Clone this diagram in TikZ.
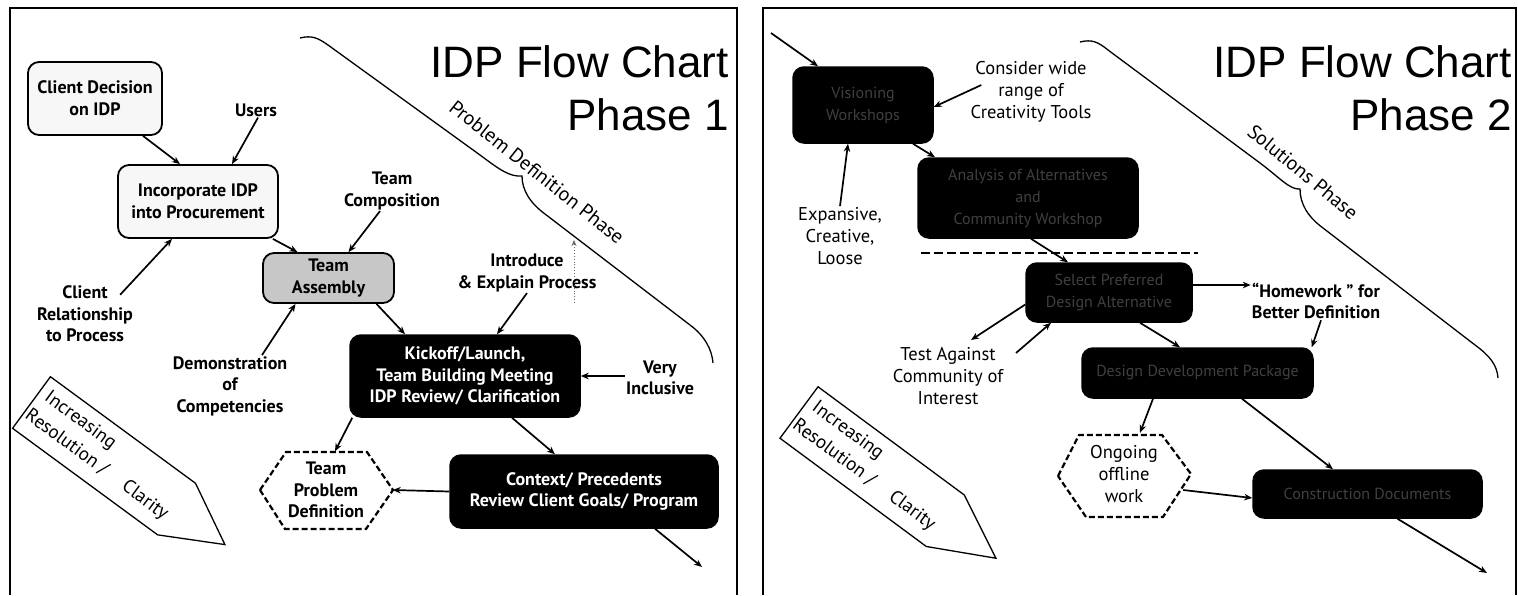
\documentclass[tikz,border=0pt]{standalone}
\usepackage{fontspec}
\setmainfont{PT Sans}
\newfontfamily\titlefont{Liberation Sans}
\usetikzlibrary{arrows.meta,calc}
\begin{document}
\begin{tikzpicture}[x=1pt,y=-1pt,
 arr/.style={line width=1.7pt,-{Stealth[length=8pt,width=6.5pt]}},
 lbl/.style={font=\bfseries\fontsize{18}{21.5}\selectfont, align=center, inner sep=1pt},
 lbltwo/.style={font=\fontsize{18.5}{22}\selectfont, align=center, inner sep=1pt},
 lite/.style={draw, line width=1.8pt, rounded corners=11pt, fill=black!3, font=\bfseries\fontsize{18}{22}\selectfont, align=center},
 darka/.style={draw, line width=1.5pt, rounded corners=11pt, fill=black, text=white, font=\bfseries\fontsize{18}{21.5}\selectfont, align=center},
 darkb/.style={draw, line width=1.5pt, rounded corners=11pt, fill=black, text=black!75, font=\fontsize{16}{22}\selectfont, align=center},
 hexa/.style={line width=2.2pt, dash pattern=on 6pt off 3pt},
 title/.style={font=\titlefont\fontsize{44}{50}\selectfont, inner sep=0pt, anchor=base east},
 phase/.style={font=\fontsize{20}{22}\selectfont, inner sep=0pt},
 arrtext/.style={font=\fontsize{19}{22}\selectfont, inner sep=0pt, anchor=west, rotate=-36.3},
 frame/.style={line width=1.6pt}
]
\useasboundingbox (0,0) rectangle (1518,595);
% panel frames
\draw[frame] (10,595) -- (10,8) -- (737,8) -- (737,595);
\draw[frame] (763,595) -- (763,8) -- (1516,8) -- (1516,595);

% ================= PHASE 1 =================
\node[title] (t1) at (729,77) {IDP Flow Chart};
\node[title] (t1b) at (729,130) {Phase 1};

\draw[line width=1.3pt] (300,38) .. controls (312,35) and (318,38) .. (328,45) -- (480,155)
  .. controls (500,170) and (510,177) .. (522,176)
  .. controls (522,190) and (530,203) .. (545,214) -- (690,325)
  .. controls (705,336) and (712,350) .. (713,363);
\node[phase, rotate=-38.5] (pdp) at (537,172) {Problem Definition Phase};

\node[lite, minimum width=134pt, minimum height=73pt] (cd) at (95,98.5) {Client Decision\\on IDP};
\node[lbl] (users) at (256,110) {Users};
\node[lite, minimum width=160pt, minimum height=73pt] (inc) at (198,201.5) {Incorporate IDP\\into Procurement};
\node[lbl] (crp) at (85,314) {Client\\Relationship\\to Process};
\node[lite, fill=black!22, minimum width=131pt, minimum height=50pt] (ta) at (328.5,278) {Team\\Assembly};
\node[lbl] (tc) at (392,191) {Team\\Composition};
\node[lbl] (dem) at (230,386) {Demonstration\\of\\Competencies};
\node[darka, minimum width=230pt, minimum height=82pt] (ko) at (465,376) {Kickoff/Launch,\\Team Building Meeting\\IDP Review/ Clarification};
\node[lbl] (iep) at (527,273) {Introduce\\\& Explain Process};
\node[lbl] (vi) at (660,378) {Very\\Inclusive};
\node[darka, minimum width=268pt, minimum height=73pt] (ctx) at (584,491.5) {Context/ Precedents\\Review Client Goals/ Program};
\node[lbl, minimum width=133pt, minimum height=77pt] (tpd) at (326,490) {Team\\Problem\\Definition};
\draw[hexa] ($(tpd)+(-66,0)$) -- ($(tpd)+(-40,-38)$) -- ($(tpd)+(41,-38)$) -- ($(tpd)+(67,0)$) -- ($(tpd)+(40,39)$) -- ($(tpd)+(-41,39)$) -- cycle;

\draw[arr] ([xshift=48pt]cd.south) -- ([xshift=-18pt]inc.north);
\draw[arr] ([xshift=2pt]users.south) -- ([xshift=34pt]inc.north);
\draw[arr] ($(crp.north east)+(-14,10)$) -- ([xshift=-26pt]inc.south);
\draw[arr] ([xshift=-6pt]inc.south east) -- ([xshift=-31pt]ta.north);
\draw[arr] ([xshift=-12pt]tc.south) -- ([xshift=20pt]ta.north);
\draw[arr] ([xshift=32pt]dem.north) -- ([xshift=-33pt]ta.south);
\draw[arr] ([xshift=48pt]ta.south) -- ([xshift=-60pt]ko.north);
\draw[arr] (iep.south) -- ([xshift=32pt]ko.north);
\coordinate (dt) at (574,240);
\draw[dotted, black!60, line width=0.9pt, -{Stealth[length=6pt,width=5pt]}] ($(iep.south)+(47,10)$) -- (dt);
\draw[arr] (vi.west |- ko.east) -- (ko.east);
\draw[arr] ([xshift=47pt]ko.south) -- ([xshift=-29pt]ctx.north);
\draw[arr] ([xshift=3pt]ko.south west) -- ([xshift=9pt]tpd.north);
\draw[arr] (ctx.west) -- (tpd.east);
\coordinate (o1) at (702,567);
\draw[arr] ([xshift=71pt]ctx.south) -- (o1);

\begin{scope}[shift={(31.5,402.5)}, rotate=-36.3]
  \draw[line width=1.3pt, fill=white] (0,-32) -- (180,-32) -- (240,0) -- (180,32) -- (0,32) -- cycle;
  \node[arrtext] (inc1) at (8,-14) {Increasing};
  \node[arrtext] (res1) at (3,12) {Resolution /\hspace{22pt}Clarity};
\end{scope}

% ================= PHASE 2 =================
\node[title] (t2) at (1512,77) {IDP Flow Chart};
\node[title] (t2b) at (1512,130) {Phase 2};

\draw[line width=1.3pt] (1080,42) .. controls (1092,39) and (1098,42) .. (1108,50) -- (1260,163)
  .. controls (1280,178) and (1290,190) .. (1300,189)
  .. controls (1300,204) and (1308,217) .. (1323,228) -- (1475,345)
  .. controls (1490,356) and (1497,365) .. (1498,378);
\node[phase, rotate=-39.5] (sp) at (1303,172) {Solutions Phase};

\coordinate (i2) at (771,33);
\node[darkb, minimum width=140pt, minimum height=76pt] (b1) at (863,105) {Visioning\\Workshops};
\node[lbltwo] (cwr) at (1031,92) {Consider wide\\range of\\Creativity Tools};
\node[lbltwo] (ecl) at (840,236) {Expansive,\\Creative,\\Loose};
\node[darkb, minimum width=220pt, minimum height=80pt] (b2) at (1028,198) {Analysis of Alternatives\\and\\Community Workshop};
\draw[line width=2.6pt, dash pattern=on 9pt off 4pt] (921,253) -- (1198,253);
\node[darkb, minimum width=166pt, minimum height=59pt] (b3) at (1109,292.5) {Select Preferred\\Design Alternative};
\node[lbl] (hw) at (1316,301) {``Homework '' for\\Better Definition};
\node[darkb, minimum width=231pt, minimum height=50pt] (b4) at (1197.5,373) {Design Development Package};
\node[lbltwo] (tac) at (948,376) {Test Against\\Community of\\Interest};
\node[lbltwo, minimum width=134pt, minimum height=82pt] (oow) at (1124,474) {Ongoing\\offline\\work};
\draw[hexa] ($(oow)+(-66,2)$) -- ($(oow)+(-45,-39)$) -- ($(oow)+(38,-39)$) -- ($(oow)+(67,0)$) -- ($(oow)+(39,43)$) -- ($(oow)+(-38,43)$) -- cycle;
\node[darkb, minimum width=229pt, minimum height=48pt] (b5) at (1367.5,494) {Construction Documents};

\draw[arr] (i2) -- ([xshift=-45pt]b1.north);
\draw[arr] ($(cwr.west)+(12,-7)$) -- ([yshift=-2pt]b1.east);
\draw[arr] (ecl.north) -- ([xshift=-15pt]b1.south);
\draw[arr] ([xshift=50pt]b1.south) -- ([xshift=-93pt]b2.north);
\draw[arr] ([xshift=3pt]b2.south) -- ([xshift=-41pt]b3.north);
\draw[arr] ([yshift=7.5pt]b3.east) -- ([yshift=7.5pt]b3.east -| hw.west);
\draw[arr] ([xshift=5pt]hw.south) -- ([xshift=-2pt]b4.north east);
\draw[arr] ([yshift=-12pt]b3.west) -- ($(tac)+(23,-36)$);
\draw[arr] ($(tac)+(68,-23)$) -- ([xshift=-58pt]b3.south);
\draw[arr] ([xshift=31pt]b3.south) -- ([xshift=-17.5pt]b4.north);
\draw[arr] ([xshift=-44.5pt]b4.south) -- ([xshift=16pt]oow.north);
\draw[arr] ([xshift=44.5pt]b4.south) -- ([xshift=-34.5pt]b5.north);
\draw[arr] ($(oow.east)+(-8,16)$) -- ([yshift=-4pt]b5.west);
\coordinate (o2) at (1487,573);
\draw[arr] ([xshift=30pt]b5.south) -- (o2);

\begin{scope}[shift={(799,412.5)}, rotate=-36.5]
  \draw[line width=1.3pt, fill=white] (0,-32) -- (182,-32) -- (245,0) -- (182,32) -- (0,32) -- cycle;
  \node[arrtext, rotate=-0.2] (inc2) at (8,-14) {Increasing};
  \node[arrtext, rotate=-0.2] (res2) at (3,12) {Resolution /\hspace{22pt}Clarity};
\end{scope}
\end{tikzpicture}
\end{document}
